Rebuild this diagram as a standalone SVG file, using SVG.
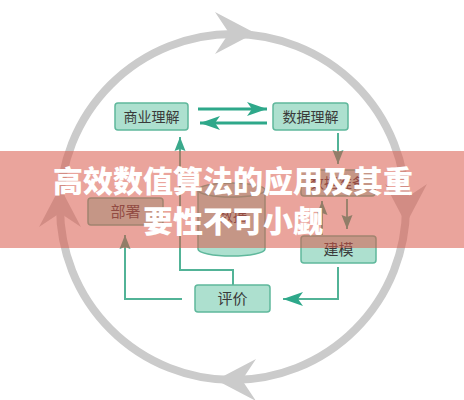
<svg xmlns="http://www.w3.org/2000/svg" width="464" height="400" viewBox="0 0 464 400">
<style>
.box{fill:#ade0cf;stroke:#5fb89c;stroke-width:1.5}
.lbl{font-family:"Noto Sans CJK SC","Noto Sans",sans-serif;font-size:14px;fill:#3a3a3a;text-anchor:middle}
.ring{fill:none;stroke:#cbcbcb;stroke-width:8}
.ringhead{fill:#cbcbcb}
.con{fill:none;stroke:#52b397;stroke-width:2}
.bold{fill:none;stroke:#2ea88a;stroke-width:3}
.title{font-family:"Noto Sans CJK SC","Noto Sans",sans-serif;font-size:30px;font-weight:900;fill:#ffffff;text-anchor:middle}
</style>
<defs>
<path id="rh" d="M21,0 L-19,-21 L-5,0 L-19,21 Z"/>
<marker id="big" markerUnits="userSpaceOnUse" markerWidth="22" markerHeight="16" refX="20" refY="8" orient="auto" viewBox="0 0 22 16">
<path d="M0,1 L20,8 L0,15 L5,8 Z" fill="#2ea88a"/>
</marker>
<marker id="sm" markerUnits="userSpaceOnUse" markerWidth="15" markerHeight="12" refX="14" refY="6" orient="auto" viewBox="0 0 15 12">
<path d="M0,0.5 L14,6 L0,11.5 L2,6 Z" fill="#3aa98c"/>
</marker>
</defs>
<rect x="0" y="0" width="464" height="400" fill="#ffffff"/>
<g id="cycle">
<circle class="ring" cx="233" cy="207" r="173"/>
<use href="#rh" class="ringhead" transform="translate(234,33)"/>
<use href="#rh" class="ringhead" transform="translate(406,203) rotate(90)"/>
<use href="#rh" class="ringhead" transform="translate(237,380) rotate(180)"/>
<use href="#rh" class="ringhead" transform="translate(60,208) rotate(-90)"/>
</g>
<g id="connectors">
<line class="bold" x1="198" y1="109" x2="267" y2="109" marker-end="url(#big)"/>
<line class="bold" x1="267" y1="123" x2="200" y2="123" marker-end="url(#big)"/>
<line class="con" x1="338" y1="133" x2="338" y2="164" marker-end="url(#sm)"/>
<line class="con" x1="347" y1="199" x2="347" y2="229" marker-end="url(#sm)"/>
<line class="con" x1="322" y1="235" x2="322" y2="201" marker-end="url(#sm)"/>
<polyline class="con" points="338,267 338,299 283,299" marker-end="url(#big)"/>
<polyline class="con" points="182,299 125,299 125,235" marker-end="url(#sm)"/>
<polyline class="con" points="233,285 233,270 180,270 180,137" marker-end="url(#sm)"/>
</g>
<g id="node-business">
<rect class="box" x="115" y="103" width="73" height="27" rx="3"/>
<text class="lbl" x="151.5" y="121.5">商业理解</text>
</g>
<g id="node-data-understanding">
<rect class="box" x="273" y="103" width="75" height="27" rx="3"/>
<text class="lbl" x="310.5" y="121.5">数据理解</text>
</g>
<g id="node-data-prep">
<rect class="box" x="301" y="170" width="74" height="26" rx="3"/>
<text class="lbl" x="338" y="188">数据准备</text>
</g>
<g id="node-modeling">
<rect class="box" x="301" y="236" width="75" height="27" rx="3"/>
<text class="lbl" x="338.5" y="255" style="font-size:15px">建模</text>
</g>
<g id="node-evaluation">
<rect class="box" x="195" y="285" width="75" height="27" rx="3"/>
<text class="lbl" x="232.5" y="304" style="font-size:15px">评价</text>
</g>
<g id="node-deployment">
<rect class="box" x="88" y="198" width="75" height="27" rx="3"/>
<text class="lbl" x="125.5" y="217" style="font-size:15px">部署</text>
</g>
<g id="node-data">
<path class="box" d="M198,190 L198,249 A33.5,7 0 0 0 265,249 L265,190"/>
<ellipse class="box" cx="231.5" cy="190" rx="33.5" ry="7"/>
<text class="lbl" x="233" y="221">数据</text>
</g>
<g id="banner">
<rect x="0" y="151" width="464" height="97" fill="#d9594a" fill-opacity="0.55"/>
<text class="title" x="233" y="192">高效数值算法的应用及其重</text>
<text class="title" x="233" y="232">要性不可小觑</text>
</g>
</svg>
